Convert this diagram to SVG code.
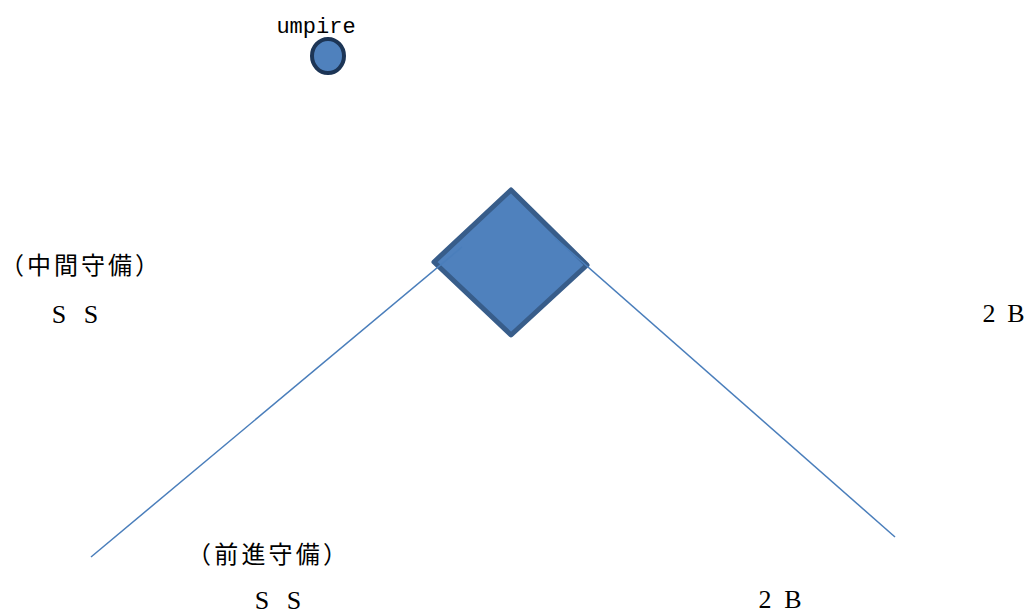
<svg xmlns="http://www.w3.org/2000/svg" width="1032" height="615" viewBox="0 0 1032 615">
<style>
.lbl{font-family:"Noto Sans CJK JP",sans-serif;font-size:24px;fill:#000}
.lat{font-family:"Liberation Serif",serif;font-size:26px;fill:#000}
.mono{font-family:"Liberation Mono",monospace;font-size:22px;fill:#000}
.conn{stroke:#4a7ebb;stroke-width:1.5;fill:none}
</style>
<rect width="1032" height="615" fill="#fff"/>
<g id="umpire">
<text class="mono" x="316" y="33" text-anchor="middle">umpire</text>
<ellipse cx="328" cy="56" rx="16" ry="17" fill="#4f81bd" stroke="#1c3556" stroke-width="4"/>
</g>
<g id="base">
<polygon points="511,190 587,265 511,335 434,262" fill="#4f81bd" stroke="#385d8a" stroke-width="5" stroke-linejoin="round"/>
</g>
<g id="connectors">
<line class="conn" x1="91" y1="557" x2="462" y2="247"/>
<line class="conn" x1="895" y1="537" x2="555" y2="238"/>
</g>
<g id="ss-mid">
<text class="lbl" x="0" y="274" textLength="159" lengthAdjust="spacing">（中間守備）</text>
<text class="lat" x="59" y="323" text-anchor="middle">S</text>
<text class="lat" x="91" y="323" text-anchor="middle">S</text>
</g>
<g id="ss-fwd">
<text class="lbl" x="187" y="563" textLength="160" lengthAdjust="spacing">（前進守備）</text>
<text class="lat" x="262" y="609" text-anchor="middle">S</text>
<text class="lat" x="294" y="609" text-anchor="middle">S</text>
</g>
<g id="2b-fwd">
<text class="lat" x="765" y="608" text-anchor="middle">2</text>
<text class="lat" x="793" y="608" text-anchor="middle">B</text>
</g>
<g id="2b-mid">
<text class="lat" x="989" y="322" text-anchor="middle">2</text>
<text class="lat" x="1016" y="322" text-anchor="middle">B</text>
</g>
</svg>
